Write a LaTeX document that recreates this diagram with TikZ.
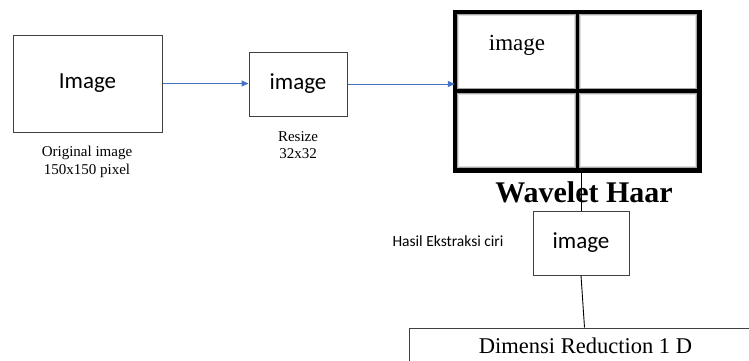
\documentclass[tikz,border=0pt]{standalone}
\usepackage{fontspec}
\setmainfont{Liberation Serif}
\newfontfamily\calib{Carlito}
\usetikzlibrary{arrows.meta}
\definecolor{arrowblue}{HTML}{4472C4}
\definecolor{boxgray}{HTML}{404040}
\tikzset{
  box/.style={draw=boxgray, line width=1pt, rectangle, inner sep=0pt},
  sanslbl/.style={font=\calib\fontsize{23}{27}\selectfont},
  flow/.style={draw=arrowblue, line width=1pt, -{Triangle[length=7pt,width=6pt]}},
  plain/.style={draw=black, line width=0.9pt},
  caption/.style={align=center, inner sep=0pt}
}
\begin{document}
\begin{tikzpicture}[x=1pt,y=-1pt]
\clip (0,0) rectangle (749,360);
\useasboundingbox (0,0) rectangle (749,360);
\fill[white] (0,0) rectangle (749,360);

% original image
\node[box, sanslbl, minimum width=149pt, minimum height=97pt] (img) at (87.5,83.5) {Image};
\node[caption, font=\fontsize{15}{18}\selectfont] (cap1) at (87,162) {Original image\\150x150 pixel};

% resize
\node[box, sanslbl, minimum width=98pt, minimum height=64pt] (rsz) at (298,84) {image};
\node[caption, font=\fontsize{15}{17}\selectfont] (cap2) at (298,145) {Resize\\32x32};

% wavelet grid
\node[rectangle, inner sep=0pt, minimum width=244.5pt, minimum height=158.5pt] (grid) at (577.25,91.25) {};
\begin{scope}
  \clip (grid.north west) rectangle (grid.south east);
  \draw[black!12, line width=9pt] (grid.north west) rectangle (grid.south east);
  \draw[black!12, line width=7pt] (grid.north) -- (grid.south);
  \draw[black!12, line width=7pt] (455,91) -- (699.5,91);
  \draw[black!35, line width=7pt] (grid.north west) rectangle (grid.south east);
  \draw[black!35, line width=5.5pt] (grid.north) -- (grid.south);
  \draw[black!35, line width=5.5pt] (455,91) -- (699.5,91);
\end{scope}
\draw[black, line width=4.5pt] (grid.north west) rectangle (grid.south east);
\draw[black, line width=3.5pt] (grid.north) -- (grid.south);
\draw[black, line width=3.5pt] (455,91) -- (699.5,91);
\node[inner sep=0pt, font=\fontsize{23}{27}\selectfont] (gimg) at (517,45) {image};
\node[inner sep=0pt, font=\bfseries\fontsize{30}{34}\selectfont] (wh) at (584,192) {Wavelet Haar};

% feature result
\node[box, sanslbl, minimum width=96pt, minimum height=64pt] (feat) at (581,243) {image};
\node[inner sep=0pt, font=\calib\fontsize{15.5}{18}\selectfont] (hasil) at (448,241) {Hasil Ekstraksi ciri};

% dimension reduction
\node[box, minimum width=351pt, minimum height=62pt] (dr) at (584.5,359) {};
\node[inner sep=0pt, font=\fontsize{22.5}{26}\selectfont] (drtxt) at (585.5,346) {Dimensi Reduction 1 D};

% connectors
\draw[flow] (img.east) -- (img.east -| rsz.west);
\draw[flow] (rsz.east) -- (rsz.east -| grid.west);
\draw[plain] (feat.north |- grid.south) -- (feat.north);
\draw[plain] (feat.south) -- (dr.north);
\end{tikzpicture}
\end{document}
